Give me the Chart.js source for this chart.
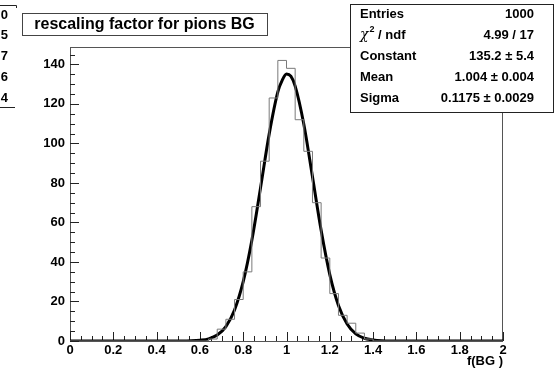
<!DOCTYPE html>
<html>
<head>
<meta charset="utf-8">
<script src="https://cdn.jsdelivr.net/npm/chart.js@4.4.1/dist/chart.umd.min.js"></script>
<style>
  html, body { margin: 0; padding: 0; background: #fff; }
  #wrap { width: 554px; height: 368px; }
</style>
</head>
<body>
<div id="wrap"><canvas id="histChart" width="554" height="368"></canvas></div>
<script>
// histogram bins (lower edges, 0.04 wide) and counts
const binEdges = [0.60, 0.64, 0.68, 0.72, 0.76, 0.80, 0.84, 0.88, 0.92, 0.96,
                  1.00, 1.04, 1.08, 1.12, 1.16, 1.20, 1.24, 1.28, 1.32, 1.36, 1.40];
const binCounts = [0, 1, 6, 11, 21, 35, 68, 91, 123, 142,
                   138, 112, 96, 70, 42, 24, 13, 9, 4, 1];

// gaussian fit curve
const fitX = [0, 0.52, 0.56, 0.60, 0.64, 0.68, 0.72, 0.76, 0.80, 0.84, 0.88, 0.92, 0.96, 0.98,
              1.00, 1.02, 1.04, 1.08, 1.12, 1.16, 1.20, 1.24, 1.28, 1.32, 1.36, 1.40, 1.44, 1.48, 2];
const fitY = [0, 0, 0.1, 0.4, 1.1, 3.0, 7.3, 15.7, 30.0, 51.0, 77.5, 104.7, 126.1, 131.9,
              135.1, 134.0, 129.0, 109.7, 83.1, 56.0, 33.6, 18.0, 8.6, 3.6, 1.4, 0.5, 0.1, 0, 0];

const xTicks = [0, 0.2, 0.4, 0.6, 0.8, 1, 1.2, 1.4, 1.6, 1.8, 2];
const yTicks = [0, 20, 40, 60, 80, 100, 120, 140];
const xMin = 0, xMax = 2, yMax = 148.8;

const histTitle = "rescaling factor for pions BG";
const xTitle = "f(BG )";
const statLabels = ["Entries", "chi2", "Constant", "Mean", "Sigma"];
const statValues = ["1000", "4.99 / 17", "135.2 \u00b1 5.4", "1.004 \u00b1 0.004", "0.1175 \u00b1 0.0029"];
// right ends of the neighbouring pad's stats box
const otherStatValues = ["0", "5", "7", "6", "4"];

const FONT = "'Liberation Sans', Arial, Helvetica, sans-serif";

// histogram outline points: one per lower edge, stepped
const histPoints = [{ x: xMin, y: 0 }];
for (let i = 0; i < binCounts.length; i++) {
    histPoints.push({ x: binEdges[i], y: binCounts[i] });
}
histPoints.push({ x: binEdges[binEdges.length - 1], y: 0 });
histPoints.push({ x: xMax, y: 0 });

const fitPoints = fitX.map((x, i) => ({ x: x, y: fitY[i] }));

// frame + inward ticks like ROOT
const rootFrame = {
    id: "rootFrame",
    beforeDatasetsDraw(chart) {
        const { ctx, chartArea: a, scales: { x, y } } = chart;
        ctx.save();
        ctx.strokeStyle = "#555";
        ctx.lineWidth = 1;
        ctx.strokeRect(a.left + 0.5, a.top + 0.5, a.right - a.left - 1, a.bottom - a.top);

        ctx.strokeStyle = "#222";
        ctx.beginPath();
        for (let v = xMin; v <= xMax + 1e-9; v += 0.05) {
            const px = Math.round(x.getPixelForValue(v)) + 0.5;
            const major = Math.abs(v * 5 - Math.round(v * 5)) < 1e-6;
            ctx.moveTo(px, a.bottom);
            ctx.lineTo(px, a.bottom - (major ? 9 : 5));
        }
        for (let v = 0; v <= yMax; v += 5) {
            const py = Math.round(y.getPixelForValue(v)) + 0.5;
            const major = v % 20 === 0;
            ctx.moveTo(a.left, py);
            ctx.lineTo(a.left + (major ? 9 : 5), py);
        }
        ctx.stroke();
        ctx.restore();
    },
    afterDraw(chart) {
        const { ctx, chartArea: a } = chart;
        ctx.save();

        // axis title
        ctx.fillStyle = "#000";
        ctx.font = "bold 13px " + FONT;
        ctx.textAlign = "right";
        ctx.textBaseline = "middle";
        ctx.fillText(xTitle, a.right, 361);

        // title box
        ctx.fillStyle = "#fff";
        ctx.fillRect(22, 13, 245, 22);
        ctx.strokeStyle = "#444";
        ctx.strokeRect(22.5, 13.5, 245, 22);
        ctx.fillStyle = "#000";
        ctx.font = "bold 16px " + FONT;
        ctx.textAlign = "center";
        ctx.fillText(histTitle, 144.5, 24.5);

        // stats box
        const bx = 350, by = 4, bw = 203, bh = 108;
        ctx.fillStyle = "#fff";
        ctx.fillRect(bx, by, bw, bh);
        ctx.strokeStyle = "#222";
        ctx.strokeRect(bx + 0.5, by + 0.5, bw, bh);
        ctx.fillStyle = "#000";
        const rowH = 21;
        for (let i = 0; i < statLabels.length; i++) {
            const ry = by + 10 + i * rowH;
            ctx.textAlign = "left";
            if (statLabels[i] === "chi2") {
                let cx = bx + 10;
                ctx.font = "italic 14px 'DejaVu Serif', serif";
                ctx.fillText("\u03c7", cx, ry);
                cx += ctx.measureText("\u03c7").width + 1;
                ctx.font = "bold 9px " + FONT;
                ctx.fillText("2", cx, ry - 5);
                cx += ctx.measureText("2").width;
                ctx.font = "bold 13px " + FONT;
                ctx.fillText(" / ndf", cx, ry);
            } else {
                ctx.font = "bold 13px " + FONT;
                ctx.fillText(statLabels[i], bx + 10, ry);
            }
            ctx.font = "bold 13px " + FONT;
            ctx.textAlign = "right";
            ctx.fillText(statValues[i], 534, ry);
        }

        // clipped stats box of the neighbouring pad
        ctx.strokeStyle = "#222";
        ctx.beginPath();
        ctx.moveTo(0, 5.5); ctx.lineTo(16.5, 5.5); ctx.lineTo(16.5, 8);
        ctx.moveTo(0, 107.5); ctx.lineTo(15, 107.5);
        ctx.stroke();
        ctx.font = "bold 13px " + FONT;
        ctx.textAlign = "right";
        for (let i = 0; i < otherStatValues.length; i++) {
            ctx.fillText(otherStatValues[i], 8, 15 + i * 20.8);
        }
        ctx.restore();
    }
};

const ctx = document.getElementById("histChart").getContext("2d");
const chart = new Chart(ctx, {
    type: "line",
    data: {
        datasets: [{
            data: histPoints,
            stepped: true,
            borderColor: "#7a7a7a",
            borderWidth: 1,
            pointRadius: 0,
            fill: false
        }, {
            data: fitPoints,
            cubicInterpolationMode: "monotone",
            borderColor: "#000",
            borderWidth: 3,
            pointRadius: 0,
            fill: false
        }]
    },
    options: {
        responsive: false,
        animation: false,
        layout: { padding: { top: 47, right: 51, left: 0, bottom: 0 } },
        plugins: { legend: { display: false }, tooltip: { enabled: false } },
        scales: {
            x: {
                type: "linear",
                min: xMin,
                max: xMax,
                grid: { display: false, drawTicks: false },
                border: { display: false },
                afterBuildTicks: s => { s.ticks = xTicks.map(v => ({ value: v })); },
                afterFit: s => { s.height = 27; },
                ticks: {
                    autoSkip: false,
                    maxRotation: 0,
                    padding: 2,
                    color: "#000",
                    font: { family: FONT, size: 13, weight: "bold" },
                    callback: v => String(Number(v.toFixed(1)))
                }
            },
            y: {
                type: "linear",
                min: 0,
                max: yMax,
                grid: { display: false, drawTicks: false },
                border: { display: false },
                afterBuildTicks: s => { s.ticks = yTicks.map(v => ({ value: v })); },
                afterFit: s => { s.width = 70; },
                ticks: {
                    autoSkip: false,
                    padding: 5,
                    color: "#000",
                    font: { family: FONT, size: 13, weight: "bold" },
                    callback: v => String(v)
                }
            }
        }
    },
    plugins: [rootFrame]
});
</script>
</body>
</html>
